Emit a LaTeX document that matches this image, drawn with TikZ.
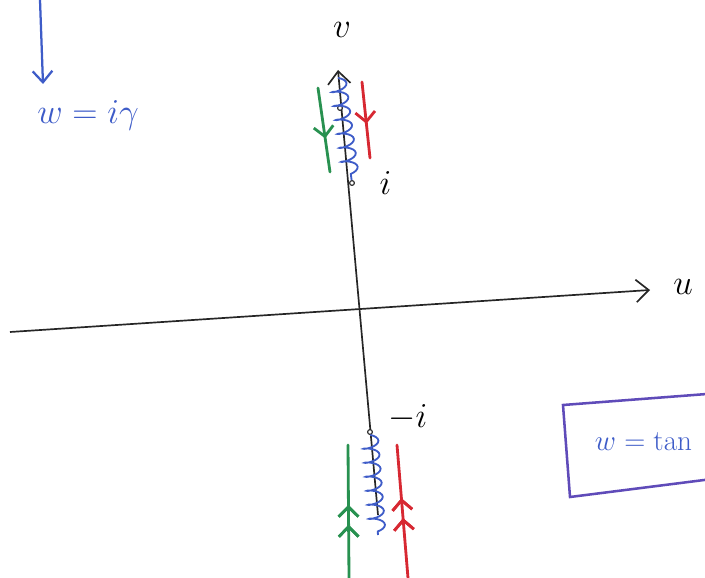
\documentclass[tikz,border=0pt]{standalone}
\usetikzlibrary{arrows.meta,positioning,decorations.pathmorphing,decorations.markings}

\definecolor{penblue}{RGB}{62,92,200}
\definecolor{pengreen}{RGB}{40,145,80}
\definecolor{penred}{RGB}{215,40,50}
\definecolor{penpurple}{RGB}{95,75,185}

\tikzset{
  axis/.style={draw=black!85, line width=1.2pt},
  pen/.style={line width=2pt, line cap=round},
  spring/.style={penblue, line width=1.3pt, decorate,
    decoration={coil, aspect=0.35, segment length=10pt, amplitude=5.5pt}},
  midarrow/.style={postaction={decorate}, decoration={markings,
    mark=at position #1 with {\arrow{Straight Barb[length=7pt,width=14pt,line width=2pt]}}}},
  label/.style={font=\fontsize{26}{28}\selectfont},
  pt/.style={circle, draw=black!85, fill=white, line width=0.8pt, inner sep=1.2pt},
}

\begin{document}
\begin{tikzpicture}[x=0.025cm, y=-0.025cm]
  \useasboundingbox (0,0) rectangle (705,578);
  \clip (0,0) rectangle (705,578);

  % axes
  \coordinate (ul) at (10,332);
  \coordinate (ur) at (650,290);
  \coordinate (vb) at (378,515);
  \coordinate (vt) at (338,70);
  \draw[axis, -{Straight Barb[length=9pt,width=16pt]}] (ul) -- (ur);
  \draw[axis, -{Straight Barb[length=9pt,width=16pt]}] (vb) -- (vt);
  \node[label] (ulab) at (683,287) {$u$};
  \node[label] (vlab) at (342,30) {$v$};

  % branch points
  \node[pt] (pt0) at (340,108) {};
  \node[pt] (pi) at (352,183) {};
  \node[pt] (pmi) at (370,432) {};
  \node[label, right=14pt of pi] (ilab) {$i$};
  \node[label, above right=-4pt and 8pt of pmi] (milab) {$-i$};

  % branch cuts
  \coordinate (ctop) at (338,78);
  \coordinate (cbot) at (378,535);
  \draw[spring] (ctop) -- (pi);
  \draw[spring] (pmi) -- (cbot);

  % contours above
  \coordinate (g1) at (318,88);
  \coordinate (g2) at (330,172);
  \coordinate (r1) at (362,82);
  \coordinate (r2) at (370,158);
  \draw[pen, pengreen, midarrow=0.6] (g1) -- (g2);
  \draw[pen, penred, midarrow=0.55] (r1) -- (r2);

  % contours below
  \coordinate (g3) at (349,578);
  \coordinate (g4) at (348,445);
  \coordinate (r3) at (408,578);
  \coordinate (r4) at (397,445);
  \draw[pen, pengreen, midarrow=0.4, midarrow=0.55] (g3) -- (g4);
  \draw[pen, penred, midarrow=0.45, midarrow=0.6] (r3) -- (r4);

  % incoming map
  \coordinate (a0) at (40,0);
  \coordinate (a1) at (43,84);
  \draw[pen, penblue, line width=1.6pt, -{Straight Barb[length=8pt,width=14pt]}] (a0) -- (a1);
  \node[label, penblue] (wir) at (88,115) {$w=i\gamma$};

  % map box
  \draw[penpurple, line width=1.8pt] (563,405) -- (720,393) -- (720,478) -- (570,497) -- cycle;
  \node[label, penblue, anchor=west, font=\fontsize{22}{24}\selectfont] (wtan) at (590,442) {$w=\tan$};
\end{tikzpicture}
\end{document}
